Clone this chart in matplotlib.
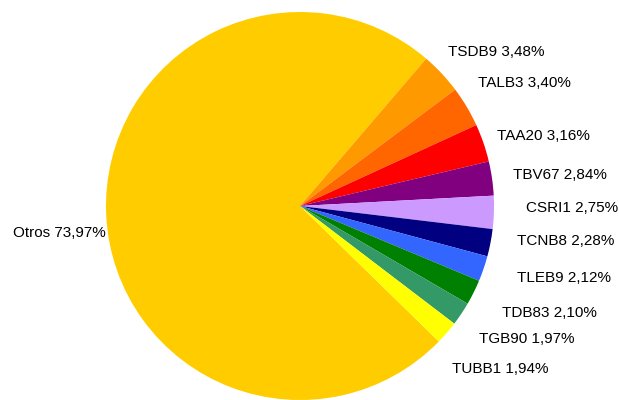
import numpy as np
import matplotlib
matplotlib.use("Agg")
from matplotlib import pyplot as plt

# Data
# ==========================================================================
labels = ["Otros", "TSDB9", "TALB3", "TAA20", "TBV67", "CSRI1",
          "TCNB8", "TLEB9", "TDB83", "TGB90", "TUBB1"]
shares = [73.97, 3.48, 3.40, 3.16, 2.84, 2.75, 2.28, 2.12, 2.10, 1.97, 1.94]
colors = ["#FFCC00", "#FF9900", "#FF6600", "#FF0000", "#800080", "#CC99FF",
          "#000080", "#3366FF", "#008000", "#339966", "#FFFF00"]

# label anchors (text baseline), in pixels from the pie centre
label_xy = [(-194, -31), (148, 150), (178, 119), (197, 66), (213, 27),
            (226, -6), (217, -39), (217, -76), (202, -111), (179, -137),
            (152, -167)]

plt.rcParams['font.family'] = ['Liberation Sans', 'DejaVu Sans']

# Figure, axes in pixel units so the pie sits where the reference has it
# ==========================================================================
fig = plt.figure(figsize=(6.19, 4.0), dpi=100)
ax = fig.add_axes([0, 0, 1, 1])

R = 194
start = 49.4 + 360 * shares[0] / 100  # Otros ends at ~49 deg, going clockwise
wedges, _ = ax.pie(shares, colors=colors, radius=R, center=(0, 0),
                   startangle=start, counterclock=False,
                   wedgeprops=dict(linewidth=0), frame=False)

ax.set_xlim(-300, 319)
ax.set_ylim(-194, 206)
ax.set_aspect('equal')
ax.axis('off')

# Labels "name value%" with decimal comma
# ==========================================================================
for (x, y), name, val in zip(label_xy, labels, shares):
    txt = f"{name} {val:.2f}%".replace(".", ",")
    ax.text(x, y, txt, fontsize=11, ha='right' if x < 0 else 'left',
            va='baseline')

fig.savefig("out.png", dpi=100)
